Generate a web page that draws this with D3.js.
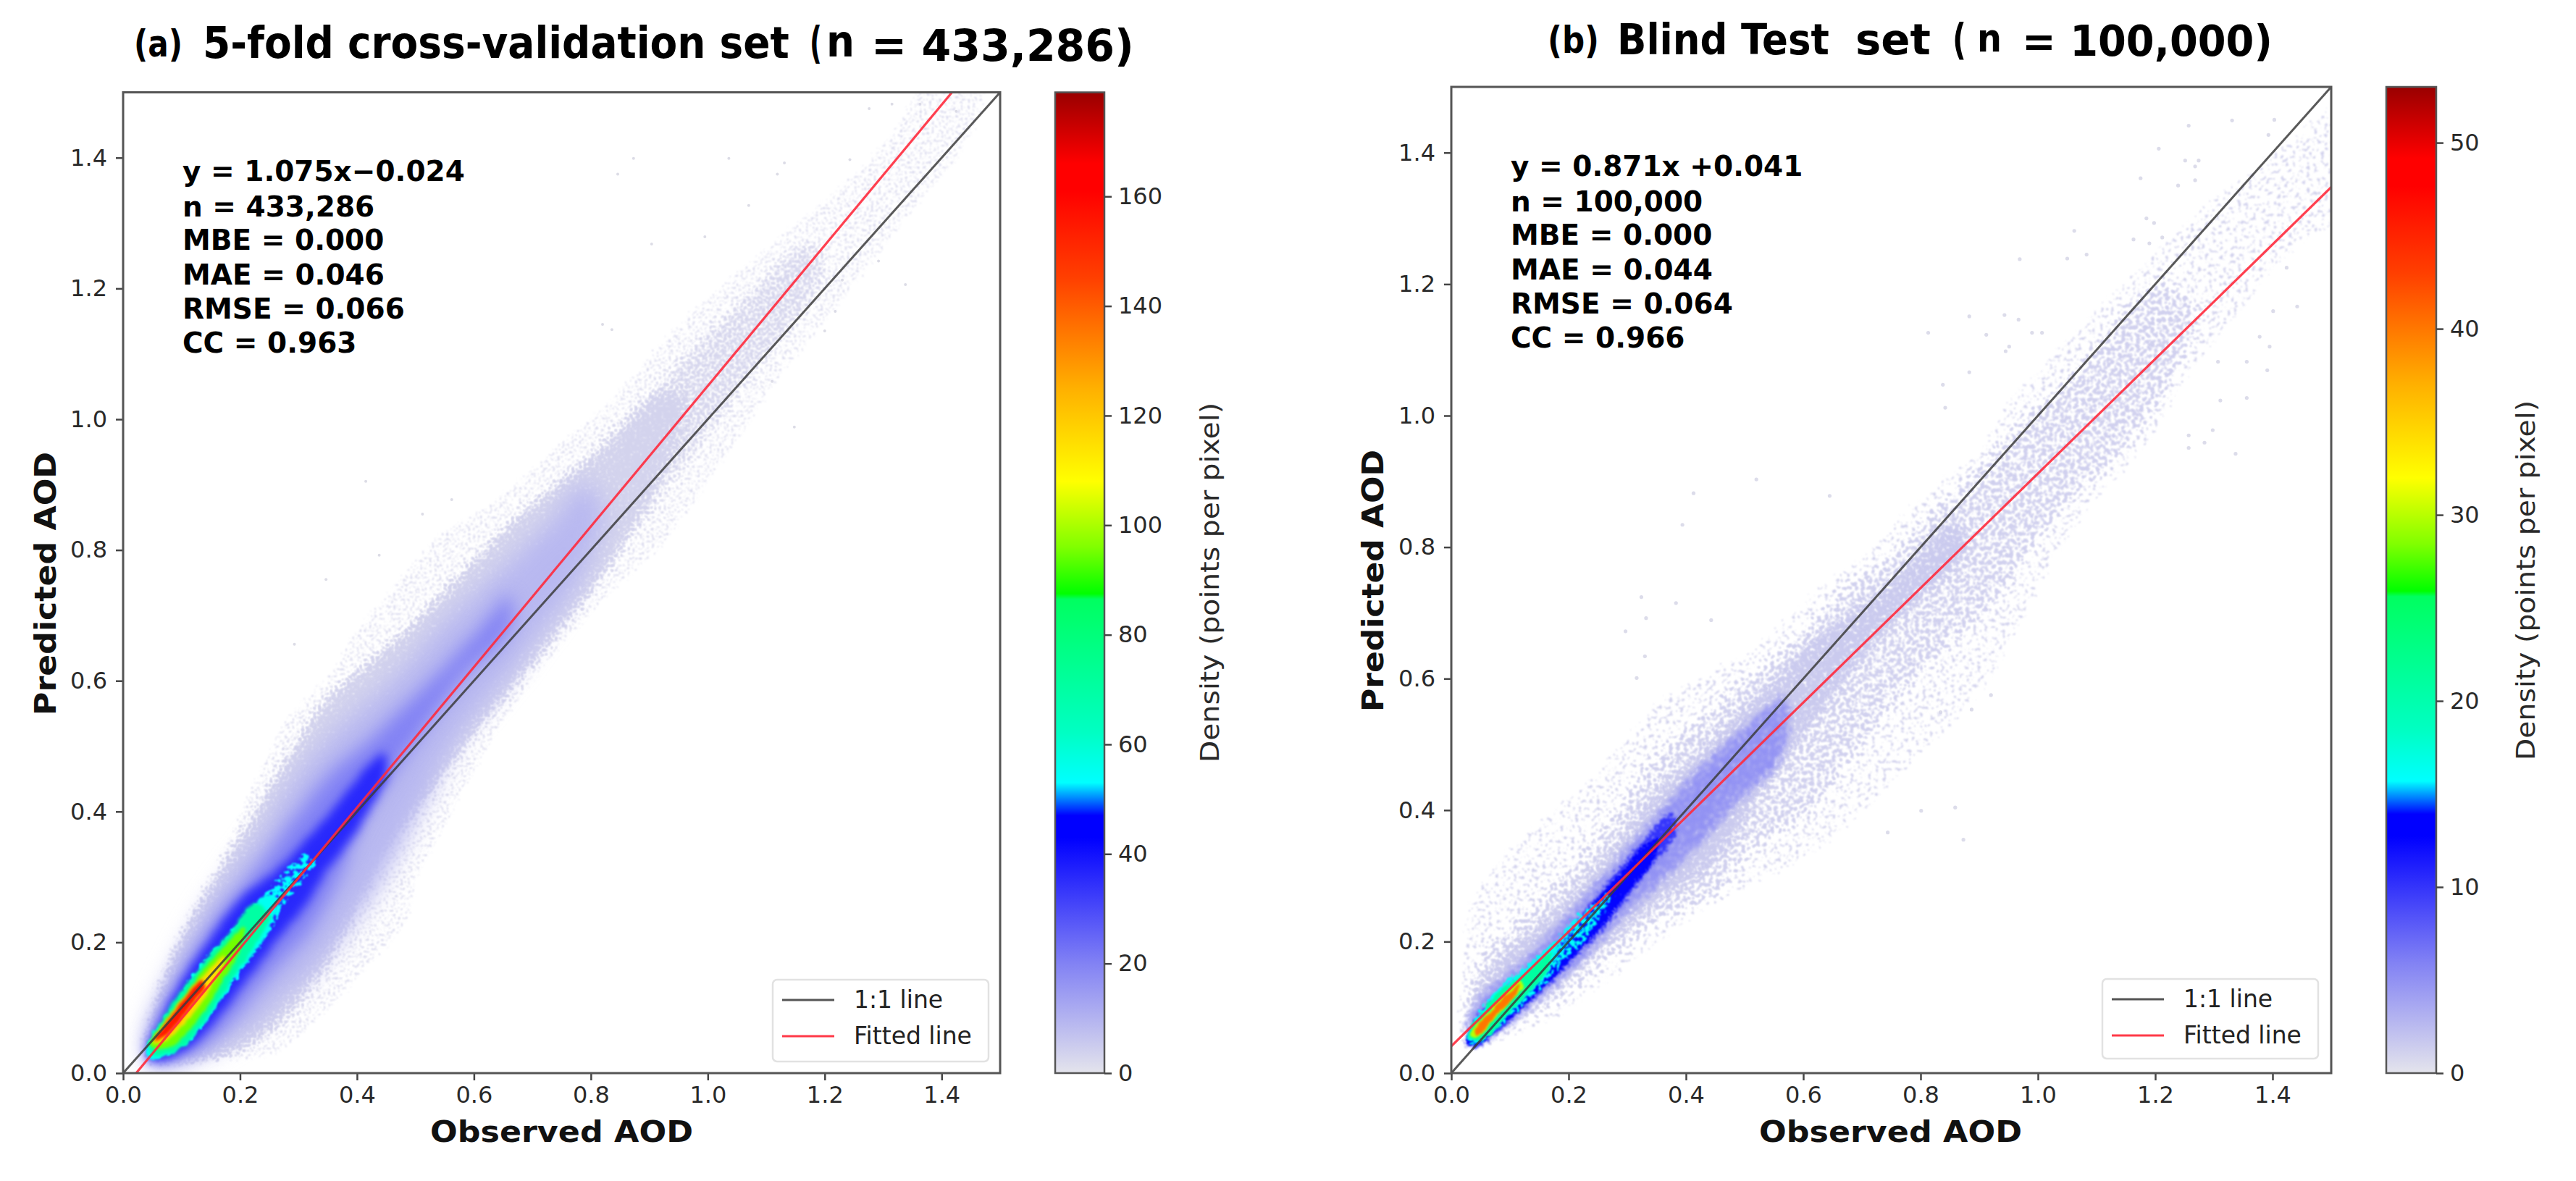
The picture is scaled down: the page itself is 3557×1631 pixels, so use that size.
<!DOCTYPE html>
<html>
<head>
<meta charset="utf-8">
<script src="https://cdn.jsdelivr.net/npm/d3@7"></script>
<style>
  html, body { margin: 0; background: #fff; }
  text { font-family: "DejaVu Sans", sans-serif; }
</style>
</head>
<body>
<script>
// axis ticks
const aodTicks = [0, 0.2, 0.4, 0.6, 0.8, 1.0, 1.2, 1.4];
const barTicksA = [0, 20, 40, 60, 80, 100, 120, 140, 160];
const barTicksB = [0, 10, 20, 30, 40, 50];
const barMaxA = 179;
const barMaxB = 53;

// colour bar, stops as read on panel (a)'s bar, as density values
const cmapValues = [0, 20, 43, 47, 53, 62, 86.5, 87.5, 96, 108, 125, 145, 161, 166, 179];
const cmapColors = ['#e4e4ec', '#8282f4', '#0000ff', '#0000ff', '#00ffff', '#00ffc4', '#00ff60', '#00ff00', '#80ff00', '#ffff00', '#ffb000', '#ff4000', '#ff0000', '#ff0000', '#990000'];

// fits: [slope, intercept]
const fitA = [1.075, -0.024];
const fitB = [0.871, 0.041];

const statsA = ['y = 1.075x\u22120.024', 'n = 433,286', 'MBE = 0.000', 'MAE = 0.046', 'RMSE = 0.066', 'CC = 0.963'];
const statsB = ['y = 0.871x +0.041', 'n = 100,000', 'MBE = 0.000', 'MAE = 0.044', 'RMSE = 0.064', 'CC = 0.966'];
const legendLabels = ['1:1 line', 'Fitted line'];

// density contours, [observed, predicted], outermost first
const levelsA = [2.5, 2.8, 3.5, 9, 20, 36, 53, 55, 70, 95, 115, 155];
const contoursA = [
  [[.028,.01],[.03,.06],[.043,.09],[.068,.17],[.107,.255],[.146,.32],[.19,.40],[.229,.475],[.273,.55],[.347,.62],[.388,.68],[.45,.745],[.533,.83],[.616,.875],[.678,.92],[.74,.97],[.821,1.03],[.888,1.10],[.97,1.175],[1.094,1.27],[1.198,1.345],[1.30,1.435],[1.37,1.52],[1.48,1.52],[1.449,1.41],[1.383,1.34],[1.26,1.20],[1.135,1.06],[1.012,.90],[.929,.80],[.863,.745],[.78,.67],[.698,.58],[.64,.505],[.574,.395],[.516,.30],[.495,.23],[.412,.14],[.329,.065],[.268,.022],[.19,.01],[.04,.002]],
  [[.03,.02],[.03,.07],[.05,.13],[.075,.19],[.11,.255],[.15,.315],[.195,.385],[.24,.455],[.285,.52],[.33,.585],[.409,.64],[.492,.71],[.574,.785],[.656,.86],[.739,.925],[.821,.99],[.95,1.11],[1.08,1.225],[1.17,1.29],[1.22,1.23],[1.074,1.04],[.95,.89],[.842,.76],[.76,.665],[.678,.575],[.607,.50],[.533,.41],[.458,.325],[.41,.225],[.34,.12],[.27,.05],[.19,.012],[.10,.004],[.05,.004]],
  [[.03,.02],[.03,.07],[.05,.13],[.075,.19],[.11,.25],[.15,.31],[.2,.38],[.245,.45],[.29,.515],[.33,.57],[.409,.635],[.492,.70],[.574,.775],[.656,.85],[.739,.91],[.82,.97],[.92,1.06],[.98,1.04],[.93,.90],[.842,.77],[.76,.675],[.678,.585],[.607,.51],[.533,.42],[.458,.335],[.40,.235],[.33,.13],[.27,.07],[.19,.02],[.10,.006],[.05,.006]],
  [[.04,.03],[.051,.09],[.09,.164],[.134,.238],[.19,.312],[.245,.378],[.285,.44],[.356,.515],[.47,.61],[.541,.68],[.616,.745],[.678,.795],[.739,.85],[.79,.90],[.82,.86],[.78,.755],[.718,.68],[.656,.605],[.574,.515],[.495,.38],[.439,.29],[.383,.22],[.329,.16],[.273,.115],[.218,.07],[.162,.04],[.096,.016],[.05,.012]],
  [[.043,.042],[.079,.116],[.118,.179],[.168,.246],[.223,.305],[.29,.386],[.356,.46],[.41,.50],[.492,.57],[.554,.626],[.616,.685],[.66,.73],[.66,.68],[.574,.60],[.533,.55],[.47,.47],[.409,.39],[.367,.294],[.312,.209],[.256,.157],[.201,.098],[.146,.046],[.079,.018],[.05,.02]],
  [[.04,.03],[.063,.076],[.101,.142],[.146,.201],[.201,.268],[.256,.305],[.312,.356],[.356,.40],[.40,.45],[.445,.49],[.45,.46],[.412,.39],[.383,.349],[.345,.305],[.312,.257],[.268,.209],[.218,.15],[.173,.098],[.129,.05],[.074,.022],[.05,.018]],
  [[.034,.03],[.045,.06],[.075,.10],[.12,.16],[.17,.212],[.21,.255],[.245,.285],[.275,.315],[.312,.345],[.335,.32],[.30,.28],[.272,.24],[.255,.21],[.225,.175],[.195,.135],[.16,.09],[.12,.048],[.08,.024],[.046,.018]],
  [[.038,.035],[.049,.057],[.079,.09],[.124,.15],[.173,.201],[.212,.242],[.245,.272],[.262,.265],[.251,.222],[.223,.183],[.19,.146],[.157,.098],[.118,.054],[.079,.028],[.046,.022]],
  [[.043,.039],[.068,.083],[.101,.127],[.146,.179],[.19,.223],[.223,.26],[.251,.242],[.229,.201],[.196,.157],[.162,.109],[.124,.061],[.09,.033],[.05,.028]],
  [[.046,.042],[.074,.083],[.107,.12],[.14,.161],[.173,.194],[.207,.223],[.196,.179],[.173,.146],[.146,.105],[.112,.065],[.079,.039]],
  [[.052,.046],[.079,.087],[.112,.124],[.146,.157],[.173,.179],[.173,.168],[.157,.142],[.135,.109],[.101,.072],[.074,.05]],
  [[.054,.05],[.079,.083],[.107,.116],[.135,.142],[.14,.131],[.124,.113],[.096,.079],[.068,.054]]
];

const levelsB = [1.1, 1.2, 1.6, 5, 10, 12.5, 16, 16.5, 21, 30, 40];
const contoursB = [
  [[.005,.03],[.005,.165],[.02,.26],[.05,.31],[.139,.39],[.226,.455],[.292,.52],[.353,.58],[.435,.62],[.497,.65],[.559,.695],[.62,.75],[.702,.80],[.764,.86],[.825,.91],[.887,.95],[.933,1.02],[1.035,1.12],[1.138,1.208],[1.22,1.281],[1.324,1.362],[1.405,1.417],[1.52,1.49],[1.52,1.29],[1.45,1.25],[1.343,1.14],[1.262,1.047],[1.2,.955],[1.077,.83],[.933,.60],[.887,.547],[.805,.474],[.702,.382],[.62,.324],[.511,.271],[.429,.235],[.347,.18],[.265,.125],[.182,.07],[.084,.04],[.035,.02]],
  [[.008,.05],[.008,.1],[.02,.155],[.05,.205],[.12,.26],[.185,.32],[.24,.38],[.31,.465],[.365,.525],[.41,.55],[.47,.60],[.53,.64],[.595,.695],[.655,.75],[.74,.805],[.80,.86],[.86,.91],[.93,.98],[1.05,1.08],[1.2,1.22],[1.29,1.17],[1.2,.98],[1.05,.84],[.933,.695],[.867,.64],[.784,.566],[.702,.474],[.62,.382],[.517,.324],[.484,.271],[.363,.216],[.281,.161],[.21,.106],[.128,.059],[.04,.026]],
  [[.01,.06],[.02,.12],[.06,.175],[.13,.23],[.205,.295],[.27,.36],[.335,.435],[.40,.49],[.485,.565],[.55,.62],[.61,.675],[.675,.715],[.74,.76],[.86,.86],[.90,.80],[.75,.66],[.682,.585],[.62,.51],[.559,.44],[.456,.305],[.374,.255],[.303,.205],[.237,.158],[.172,.11],[.106,.07],[.035,.03]],
  [[.012,.06],[.03,.11],[.075,.15],[.125,.19],[.19,.25],[.245,.305],[.31,.37],[.375,.435],[.44,.495],[.525,.56],[.575,.59],[.59,.54],[.566,.46],[.5,.407],[.429,.337],[.358,.275],[.303,.231],[.243,.172],[.182,.121],[.139,.088],[.084,.05],[.03,.028]],
  [[.02,.05],[.04,.09],[.085,.13],[.135,.165],[.18,.205],[.215,.24],[.254,.285],[.292,.325],[.325,.36],[.375,.405],[.39,.365],[.35,.315],[.31,.27],[.268,.22],[.215,.172],[.172,.132],[.133,.1],[.084,.06],[.036,.03]],
  [[.021,.046],[.045,.082],[.089,.119],[.139,.156],[.182,.192],[.215,.229],[.254,.273],[.292,.31],[.325,.346],[.355,.36],[.347,.324],[.308,.28],[.265,.229],[.215,.181],[.172,.141],[.133,.108],[.084,.068],[.04,.04]],
  [[.02,.05],[.045,.10],[.085,.14],[.12,.165],[.172,.205],[.21,.245],[.24,.26],[.272,.285],[.275,.26],[.252,.225],[.226,.19],[.199,.17],[.161,.13],[.128,.102],[.084,.065],[.042,.036]],
  [[.027,.052],[.051,.09],[.089,.13],[.13,.16],[.18,.2],[.172,.165],[.13,.12],[.085,.078],[.048,.05]],
  [[.029,.057],[.056,.097],[.089,.13],[.128,.152],[.172,.185],[.161,.152],[.128,.119],[.089,.082],[.051,.049]],
  [[.032,.059],[.056,.086],[.089,.119],[.117,.141],[.122,.13],[.106,.115],[.073,.082],[.045,.055]],
  [[.04,.064],[.067,.093],[.1,.123],[.117,.134],[.106,.115],[.078,.09],[.045,.057]]
];

// lone points outside the clouds
const straysA = [[.904,1.268],[.873,1.399],[1.036,1.399],[.846,1.375],[1.131,1.392],[1.119,1.375],[1.07,1.327],[.995,1.279],[.82,1.145],[.836,1.137],[1.243,1.397],[1.276,1.475],[1.315,1.482],[1.363,1.482],[1.425,1.471],[1.292,1.242],[1.338,1.206],[1.23,1.213],[1.2,1.135],[1.148,.988],[1.218,1.165],[1.11,1.058],[.415,.905],[.512,.855],[.438,.792],[.347,.755],[.293,.656],[.562,.877]];
const straysB = [[1.257,1.441],[1.331,1.449],[1.403,1.45],[1.393,1.427],[1.206,1.406],[1.251,1.388],[1.274,1.388],[1.268,1.379],[1.175,1.361],[1.239,1.35],[1.268,1.358],[.969,1.238],[1.062,1.281],[1.05,1.239],[1.083,1.245],[1.163,1.268],[1.19,1.262],[1.185,1.3],[1.198,1.293],[1.212,1.271],[.883,1.151],[.943,1.153],[.967,1.146],[.813,1.126],[.912,1.123],[.99,1.126],[1.007,1.126],[.951,1.105],[.945,1.098],[.883,1.066],[.838,1.047],[.842,1.012],[1.391,1.069],[1.356,1.082],[1.307,1.082],[1.395,1.105],[1.378,1.12],[1.442,1.166],[1.424,1.225],[1.401,1.159],[1.311,1.023],[1.356,1.027],[1.298,.978],[1.257,.97],[1.337,.942],[1.284,.959],[1.257,.951],[.52,.903],[.413,.882],[.394,.834],[.645,.878],[.324,.724],[.383,.715],[.332,.692],[.297,.672],[.443,.689],[.33,.634],[.316,.601],[.834,.549],[.887,.553],[.92,.575],[.859,.404],[.801,.399],[.873,.355],[.744,.366]];

const W = 3557, H = 1631;
const svg = d3.select('body').append('svg').attr('width', W).attr('height', H);
const defs = svg.append('defs');
const colorAt = d3.scaleLinear().domain(cmapValues.map(v => v / barMaxA)).range(cmapColors).clamp(true);

// speckle: the thinner the shape under the blur, the fewer specks survive
function grainFilter(id, box, color, s) {
  const f = defs.append('filter').attr('id', id).attr('filterUnits', 'userSpaceOnUse')
    .attr('x', box.x).attr('y', box.y).attr('width', box.w).attr('height', box.h)
    .attr('color-interpolation-filters', 'sRGB');
  f.append('feTurbulence').attr('type', 'fractalNoise').attr('baseFrequency', s.freq).attr('numOctaves', 2).attr('seed', 7).attr('result', 'n');
  f.append('feGaussianBlur').attr('in', 'SourceAlpha').attr('stdDeviation', s.src).attr('result', 'b');
  f.append('feComposite').attr('in', 'b').attr('in2', 'n').attr('operator', 'arithmetic')
    .attr('k1', 0).attr('k2', 1).attr('k3', 1).attr('k4', -1).attr('result', 'c');
  f.append('feColorMatrix').attr('in', 'c').attr('type', 'matrix')
    .attr('values', `0 0 0 0 0 0 0 0 0 0 0 0 0 0 0 0 0 0 14 ${-14 * s.cut}`).attr('result', 'm');
  f.append('feFlood').attr('flood-color', color).attr('result', 'fl');
  f.append('feComposite').attr('in', 'fl').attr('in2', 'm').attr('operator', 'in').attr('result', 'g');
  f.append('feGaussianBlur').attr('in', 'g').attr('stdDeviation', s.blur);
}

function softFilter(id, box, s) {
  const f = defs.append('filter').attr('id', id).attr('filterUnits', 'userSpaceOnUse')
    .attr('x', box.x).attr('y', box.y).attr('width', box.w).attr('height', box.h)
    .attr('color-interpolation-filters', 'sRGB');
  f.append('feTurbulence').attr('type', 'fractalNoise').attr('baseFrequency', 0.11).attr('numOctaves', 2).attr('seed', 3).attr('result', 'n');
  f.append('feDisplacementMap').attr('in', 'SourceGraphic').attr('in2', 'n').attr('scale', s.scale)
    .attr('xChannelSelector', 'R').attr('yChannelSelector', 'G').attr('result', 'd');
  f.append('feGaussianBlur').attr('in', 'd').attr('stdDeviation', s.blur);
}

function drawPanel(p) {
  const x = d3.scaleLinear().domain([0, 1.5]).range([p.left, p.right]);
  const y = d3.scaleLinear().domain([0, 1.5]).range([1482, p.top]);
  const box = { x: p.left, y: p.top, w: p.right - p.left, h: 1482 - p.top };
  const g = svg.append('g');

  defs.append('clipPath').attr('id', p.id + 'clip').append('rect')
    .attr('x', box.x).attr('y', box.y).attr('width', box.w).attr('height', box.h);

  // density cloud
  const cloud = g.append('g').attr('clip-path', `url(#${p.id}clip)`);
  const outline = d3.line().x(d => x(d[0])).y(d => y(d[1])).curve(d3.curveCatmullRomClosed);
  cloud.selectAll('circle.stray').data(p.strays).join('circle')
    .attr('class', 'stray')
    .attr('cx', d => x(d[0])).attr('cy', d => y(d[1])).attr('r', p.strayR)
    .attr('fill', p.strayFill);
  cloud.selectAll('path.level').data(p.contours).join('path')
    .attr('class', 'level')
    .attr('d', outline)
    .attr('fill', (d, i) => colorAt(p.levels[i] / p.max))
    .attr('filter', (d, i) => {
      const id = `${p.id}f${i}`;
      const s = p.styles[i];
      if (s.cut !== undefined) grainFilter(id, box, colorAt(p.levels[i] / p.max), s);
      else softFilter(id, box, s);
      return `url(#${id})`;
    });

  // 1:1 and fitted lines
  const straight = d3.line().x(d => x(d)).y(d => y(d));
  cloud.append('path').attr('d', straight([0, 1.5]))
    .attr('fill', 'none').attr('stroke', '#3c3c3c').attr('stroke-opacity', 0.85).attr('stroke-width', 3);
  const fitLine = d3.line().x(d => x(d)).y(d => y(p.fit[0] * d + p.fit[1]));
  cloud.append('path').attr('d', fitLine([0, 1.5]))
    .attr('fill', 'none').attr('stroke', '#ff2a3c').attr('stroke-opacity', 0.9).attr('stroke-width', 3.2);

  // axes
  const styleAxis = a => {
    a.select('.domain').remove();
    a.selectAll('line').attr('stroke', '#444').attr('stroke-width', 2.5);
    a.selectAll('text').attr('font-size', 32).attr('font-family', '"DejaVu Sans"').attr('fill', '#2a2a2a');
  };
  g.append('g').attr('transform', 'translate(0,1482)')
    .call(d3.axisBottom(x).tickValues(aodTicks).tickFormat(d3.format('.1f')).tickSize(10).tickPadding(8))
    .call(styleAxis);
  g.append('g').attr('transform', `translate(${p.left},0)`)
    .call(d3.axisLeft(y).tickValues(aodTicks).tickFormat(d3.format('.1f')).tickSize(10).tickPadding(12))
    .call(styleAxis);
  g.append('rect').attr('x', box.x).attr('y', box.y).attr('width', box.w).attr('height', box.h)
    .attr('fill', 'none').attr('stroke', '#555').attr('stroke-width', 3);

  // axis labels
  g.append('text').attr('x', p.xLabel[0]).attr('y', 1577)
    .attr('font-size', 41).attr('font-weight', 'bold').attr('fill', '#111')
    .attr('textLength', p.xLabel[1]).attr('lengthAdjust', 'spacingAndGlyphs')
    .text('Observed AOD');
  g.append('text').attr('transform', `translate(${p.yLabel[0]},${p.yLabel[1]}) rotate(-90)`)
    .attr('font-size', 41).attr('font-weight', 'bold').attr('fill', '#111')
    .attr('textLength', p.yLabel[2]).attr('lengthAdjust', 'spacingAndGlyphs')
    .text('Predicted AOD');

  // stats block
  g.append('g').selectAll('text').data(p.stats).join('text')
    .attr('x', p.statsX)
    .attr('y', (d, i) => p.statsY[i])
    .attr('font-size', 39).attr('font-weight', 'bold').attr('fill', '#000')
    .text(d => d);

  // legend
  const lg = g.append('g');
  lg.append('rect').attr('x', p.legend.x).attr('y', p.legend.y).attr('width', p.legend.w).attr('height', p.legend.h)
    .attr('rx', 6).attr('fill', '#fff').attr('fill-opacity', 0.85).attr('stroke', '#e2e2e2').attr('stroke-width', 2.5);
  legendLabels.forEach((label, i) => {
    const ly = p.legend.y + 28 + i * 50;
    lg.append('line').attr('x1', p.legend.x + 13).attr('x2', p.legend.x + 85).attr('y1', ly).attr('y2', ly)
      .attr('stroke', i ? '#ff3a48' : '#555').attr('stroke-width', 3);
    lg.append('text').attr('x', p.legend.x + 112).attr('y', ly + 11)
      .attr('font-size', 33).attr('fill', '#222').text(label);
  });

  // colour bar
  const grad = defs.append('linearGradient').attr('id', p.id + 'bar')
    .attr('x1', 0).attr('x2', 0).attr('y1', 1).attr('y2', 0);
  cmapValues.forEach((v, i) => {
    grad.append('stop').attr('offset', v / barMaxA).attr('stop-color', cmapColors[i]);
  });
  const c = d3.scaleLinear().domain([0, p.max]).range([1482, p.top]);
  g.append('rect').attr('x', p.bar[0]).attr('y', p.top).attr('width', p.bar[1] - p.bar[0]).attr('height', 1482 - p.top)
    .attr('fill', `url(#${p.id}bar)`).attr('stroke', '#555').attr('stroke-width', 2.5);
  g.append('g').attr('transform', `translate(${p.bar[1]},0)`)
    .call(d3.axisRight(c).tickValues(p.barTicks).tickSize(10).tickPadding(9))
    .call(styleAxis);
  g.append('text').attr('transform', `translate(${p.barLabel[0]},${p.barLabel[1]}) rotate(-90)`)
    .attr('font-size', 36).attr('fill', '#2a2a2a')
    .attr('textLength', 497).attr('lengthAdjust', 'spacingAndGlyphs')
    .text('Density (points per pixel)');

  // title pieces, the source was pasted together from separate text boxes
  g.append('g').selectAll('text').data(p.title).join('text')
    .attr('font-size', d => d.size).attr('font-weight', 'bold').attr('fill', '#000')
    .text(d => d.t)
    .attr('transform', function (d) {
      return `translate(${d.x},${d.y}) scale(${d.w / this.getComputedTextLength()},1)`;
    });
}

const stylesA = [
  { freq: 0.3, cut: 0.58, src: 7, blur: 0.9 },
  { freq: 0.3, cut: 0.43, src: 14, blur: 1 },
  { freq: 0.3, cut: 0.25, src: 16, blur: 1.3 },
  { scale: 8, blur: 16 },
  { scale: 8, blur: 12 },
  { scale: 8, blur: 7 },
  { freq: 0.16, cut: 0.42, src: 5, blur: 1 },
  { scale: 9, blur: 1.6 },
  { scale: 7, blur: 2 },
  { scale: 5, blur: 2 },
  { scale: 4, blur: 2 },
  { scale: 3, blur: 2 }
];
const stylesB = [
  { freq: 0.2, cut: 0.60, src: 8, blur: 0.8 },
  { freq: 0.2, cut: 0.47, src: 14, blur: 0.8 },
  { freq: 0.22, cut: 0.31, src: 16, blur: 1 },
  { freq: 0.24, cut: 0.29, src: 13, blur: 2 },
  { freq: 0.26, cut: 0.26, src: 7, blur: 1.6 },
  { freq: 0.3, cut: 0.18, src: 3, blur: 1.2 },
  { freq: 0.2, cut: 0.42, src: 4, blur: 1 },
  { scale: 7, blur: 1.6 },
  { scale: 8, blur: 1.6 },
  { scale: 5, blur: 1.6 },
  { scale: 5, blur: 1.6 }
];

drawPanel({
  id: 'a', left: 170, right: 1381, top: 127.5,
  levels: levelsA, contours: contoursA, styles: stylesA, max: barMaxA,
  strays: straysA, strayR: 2, strayFill: '#dcdce6', fit: fitA,
  xLabel: [594, 363], yLabel: [77, 988, 364],
  stats: statsA, statsX: 252, statsY: [250, 299, 345, 393, 440, 487],
  legend: { x: 1067, y: 1353, w: 298, h: 113 },
  bar: [1457, 1525], barTicks: barTicksA, barLabel: [1683, 1053],
  title: [
    { t: '(a)', x: 185, y: 78, size: 52, w: 67 },
    { t: '5-fold cross-validation set', x: 280, y: 80, size: 60, w: 810 },
    { t: '(', x: 1118, y: 80, size: 60, w: 17 },
    { t: 'n', x: 1141, y: 78, size: 60, w: 39 },
    { t: '= 433,286)', x: 1203, y: 84, size: 60, w: 363 }
  ]
});

drawPanel({
  id: 'b', left: 2004, right: 3219, top: 120,
  levels: levelsB, contours: contoursB, styles: stylesB, max: barMaxB,
  strays: straysB, strayR: 2.6, strayFill: '#dcdcea', fit: fitB,
  xLabel: [2429, 363], yLabel: [1910, 983, 362],
  stats: statsB, statsX: 2086, statsY: [243, 292, 338, 386, 433, 480],
  legend: { x: 2903, y: 1352, w: 298, h: 110 },
  bar: [3295, 3364], barTicks: barTicksB, barLabel: [3500, 1050],
  title: [
    { t: '(b)', x: 2137, y: 73, size: 52, w: 71 },
    { t: 'Blind Test', x: 2233, y: 75, size: 58, w: 293 },
    { t: 'set', x: 2562, y: 75, size: 58, w: 104 },
    { t: '(', x: 2696, y: 75, size: 58, w: 19 },
    { t: 'n', x: 2730, y: 71, size: 54, w: 34 },
    { t: '= 100,000)', x: 2792, y: 77, size: 58, w: 346 }
  ]
});
</script>
</body>
</html>
